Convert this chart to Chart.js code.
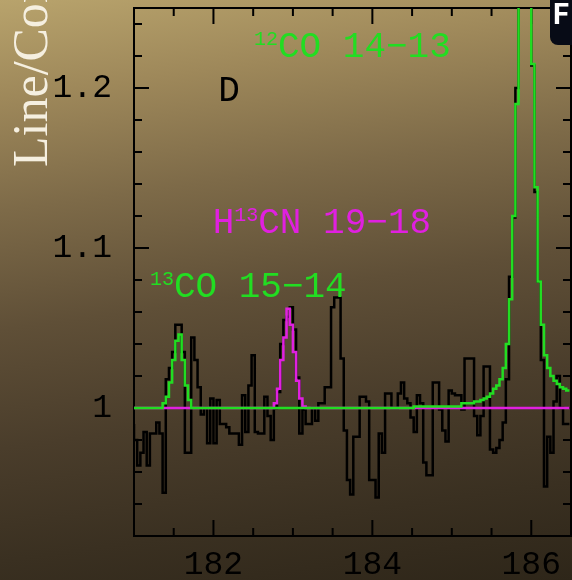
<!DOCTYPE html>
<html>
<head>
<meta charset="utf-8">
<script src="https://cdn.jsdelivr.net/npm/chart.js@4.4.1/dist/chart.umd.min.js"></script>
<style>
  html, body { margin: 0; padding: 0; }
  body {
    width: 572px; height: 580px; overflow: hidden; position: relative;
    background: linear-gradient(172deg, #b8a36c 0%, #9e885a 15%, #7d6a48 32%, #5f4f37 50%, #4a3d2b 68%, #3a3021 85%, #2e2619 100%);
  }
  #ytitle {
    position: absolute; left: 0; top: 0; white-space: nowrap;
    transform-origin: left top; transform: translate(5px, 167px) rotate(-90deg);
    font-family: "Liberation Serif", serif; font-size: 50px; line-height: 50px; color: #f5efe0;
  }
  #fbox {
    position: absolute; left: 550px; top: 0; width: 30px; height: 45px;
    background: #070b16; border-bottom-left-radius: 8px;
    color: #fff; font: bold 29px/28px Roboto, sans-serif; padding-left: 3px; box-sizing: border-box;
  }
  canvas { position: absolute; left: 0; top: 0; }
</style>
</head>
<body>
<div id="ytitle">Line/Continuum</div>
<canvas id="c" width="572" height="580"></canvas>
<div id="fbox">F</div>
<script>
// channel grid (GHz)
var chanStart = 181.0;
var chanWidth = 0.04;

// observed spectrum, line/continuum
var spectrum = [
  0.99, 0.98, 0.964, 0.972, 0.985, 0.964, 0.984, 0.984, 0.991, 0.984,
  0.947, 1.018, 1.025, 1.035, 1.052, 1.052, 1.035, 0.972, 0.972, 1.044,
  1.03, 1.013, 0.996, 1.0, 0.978, 1.006, 0.978, 1.005, 0.99, 0.99,
  0.988, 0.984, 0.984, 0.984, 0.977, 1.008, 0.985, 1.014, 1.033, 0.985,
  0.984, 0.984, 1.007, 0.995, 0.98, 1.0, 1.01, 1.04, 1.055, 1.057,
  1.063, 1.049, 1.019, 0.984, 0.999, 0.99, 0.99, 1.0, 0.992, 1.003,
  1.003, 1.013, 1.013, 1.063, 1.069, 1.069, 1.031, 0.986, 0.955, 0.946,
  0.982, 0.982, 1.007, 1.007, 1.004, 0.955, 0.955, 0.944, 0.984, 0.972,
  1.009, 1.009, 1.0, 1.0, 1.009, 1.016, 1.006, 1.003, 0.994, 0.985,
  1.008, 1.003, 0.966, 0.958, 0.958, 1.016, 1.016, 0.999, 0.986, 0.979,
  1.011, 1.009, 1.008, 1.008, 0.999, 1.031, 1.031, 1.031, 0.995, 0.983,
  0.995, 1.026, 1.026, 0.974, 0.972, 0.975, 0.98, 0.991, 1.018, 1.082,
  1.119, 1.2, 1.35, 1.5, 1.5, 1.35, 1.214, 1.135, 1.079, 1.03,
  0.951, 0.982, 0.972, 1.004, 1.02, 1.0, 0.99, 0.99
];

// CO fits (13CO 15-14 and 12CO 14-13)
var coModel = [
  1, 1, 1, 1, 1, 1, 1, 1, 1, 1,
  1.003, 1.007, 1.016, 1.03, 1.042, 1.046, 1.03, 1.014, 1.005, 1,
  1, 1, 1, 1, 1, 1, 1, 1, 1, 1,
  1, 1, 1, 1, 1, 1, 1, 1, 1, 1,
  1, 1, 1, 1, 1, 1, 1, 1, 1, 1,
  1, 1, 1, 1, 1, 1, 1, 1, 1, 1,
  1, 1, 1, 1, 1, 1, 1, 1, 1, 1,
  1, 1, 1, 1, 1, 1, 1, 1, 1, 1,
  1, 1, 1, 1, 1, 1, 1, 1, 1, 1.001,
  1.001, 1.001, 1.001, 1.001, 1.001, 1.001, 1.001, 1.001, 1.001, 1.001,
  1.001, 1.001, 1.001, 1.001, 1.003, 1.003, 1.003, 1.003, 1.004, 1.004,
  1.005, 1.006, 1.007, 1.009, 1.012, 1.014, 1.018, 1.025, 1.04, 1.068,
  1.12, 1.19, 1.4, 1.7, 1.7, 1.4, 1.215, 1.138, 1.079, 1.052,
  1.033, 1.025, 1.02, 1.017, 1.015, 1.013, 1.012, 1.011
];

// H13CN 19-18 fit
var hcnModel = [
  1, 1, 1, 1, 1, 1, 1, 1, 1, 1,
  1, 1, 1, 1, 1, 1, 1, 1, 1, 1,
  1, 1, 1, 1, 1, 1, 1, 1, 1, 1,
  1, 1, 1, 1, 1, 1, 1, 1, 1, 1,
  1, 1, 1, 1, 1, 1.003, 1.012, 1.03, 1.044, 1.062,
  1.052, 1.035, 1.017, 1.006, 1.001, 1, 1, 1, 1, 1,
  1, 1, 1, 1, 1, 1, 1, 1, 1, 1,
  1, 1, 1, 1, 1, 1, 1, 1, 1, 1,
  1, 1, 1, 1, 1, 1, 1, 1, 1, 1,
  1, 1, 1, 1, 1, 1, 1, 1, 1, 1,
  1, 1, 1, 1, 1, 1, 1, 1, 1, 1,
  1, 1, 1, 1, 1, 1, 1, 1, 1, 1,
  1, 1, 1, 1, 1, 1, 1, 1, 1, 1,
  1, 1, 1, 1, 1, 1, 1, 1
];

// axis ticks
var xLabelTicks = [182, 184, 186];
var xAllTicks = [181.5, 182, 182.5, 183, 183.5, 184, 184.5, 185, 185.5, 186, 186.5];
var yLabelTicks = [1, 1.1, 1.2];
var yAllTicks = [0.94, 0.96, 0.98, 1, 1.02, 1.04, 1.06, 1.08, 1.1, 1.12, 1.14, 1.16, 1.18, 1.2, 1.22, 1.24];

// line labels: anchor (GHz, line/continuum) at left end of baseline
var notes = [
  { x: 182.06, y: 1.1919, color: '#000', parts: [{ t: 'D' }] },
  { x: 182.51, y: 1.2194, color: '#22dd22', parts: [{ t: '12', sup: true }, { t: 'CO 14\u221213' }] },
  { x: 181.99, y: 1.1094, color: '#e020e0', parts: [{ t: 'H' }, { t: '13', sup: true }, { t: 'CN 19\u221218' }] },
  { x: 181.2, y: 1.0694, color: '#22dd22', parts: [{ t: '13', sup: true }, { t: 'CO 15\u221214' }] }
];

function toPoints(vals) {
  var pts = [];
  for (var i = 0; i < vals.length; i++) {
    pts.push({ x: chanStart + i * chanWidth, y: vals[i] });
  }
  return pts;
}

var tickFont = { family: '"Liberation Mono", monospace', size: 33 };

var frameTicks = {
  id: 'frameTicks',
  beforeDatasetsDraw: function (chart) {
    var ctx = chart.ctx, a = chart.chartArea, xs = chart.scales.x, ys = chart.scales.y;
    ctx.save();
    ctx.strokeStyle = '#000';
    ctx.lineWidth = 2;
    ctx.strokeRect(a.left, a.top, a.right - a.left, a.bottom - a.top);
    ctx.beginPath();
    xAllTicks.forEach(function (v) {
      var p = xs.getPixelForValue(v);
      var len = xLabelTicks.indexOf(v) >= 0 ? 16 : 8;
      ctx.moveTo(p, a.bottom); ctx.lineTo(p, a.bottom - len);
      ctx.moveTo(p, a.top); ctx.lineTo(p, a.top + len);
    });
    yAllTicks.forEach(function (v) {
      var p = ys.getPixelForValue(v);
      var len = yLabelTicks.indexOf(v) >= 0 ? 15 : 8;
      ctx.moveTo(a.left, p); ctx.lineTo(a.left + len, p);
      ctx.moveTo(a.right, p); ctx.lineTo(a.right - len, p);
    });
    ctx.stroke();
    ctx.restore();
  },
  afterDraw: function (chart) {
    var ctx = chart.ctx, xs = chart.scales.x, ys = chart.scales.y;
    ctx.save();
    ctx.textBaseline = 'alphabetic';
    notes.forEach(function (n) {
      var px = xs.getPixelForValue(n.x);
      var py = ys.getPixelForValue(n.y);
      ctx.fillStyle = n.color;
      n.parts.forEach(function (p) {
        ctx.font = (p.sup ? '20px' : '36px') + ' "Liberation Mono", monospace';
        ctx.fillText(p.t, px, p.sup ? py - 12 : py);
        px += ctx.measureText(p.t).width;
      });
    });
    ctx.restore();
  }
};

new Chart(document.getElementById('c'), {
  type: 'line',
  data: {
    datasets: [
      { label: 'CO fit', data: toPoints(coModel), borderColor: '#22dd22', borderWidth: 2.5, stepped: 'after', order: 0 },
      { label: 'H13CN fit', data: toPoints(hcnModel), borderColor: '#e020e0', borderWidth: 2.5, stepped: 'after', order: 1 },
      { label: 'spectrum', data: toPoints(spectrum), borderColor: '#000', borderWidth: 2.5, stepped: 'after', order: 2 }
    ]
  },
  options: {
    responsive: false,
    animation: false,
    layout: { padding: { left: 0, top: 8, right: 1, bottom: 0 } },
    plugins: { legend: { display: false }, tooltip: { enabled: false } },
    elements: { point: { radius: 0 } },
    scales: {
      x: {
        type: 'linear', min: 181, max: 186.5,
        grid: { display: false, drawTicks: false },
        border: { display: false },
        afterBuildTicks: function (s) { s.ticks = xLabelTicks.map(function (v) { return { value: v }; }); },
        afterFit: function (s) { s.height = 44; s.paddingLeft = 0; s.paddingRight = 0; },
        ticks: { font: tickFont, color: '#000', padding: 9, maxRotation: 0, autoSkip: false,
                 callback: function (v) { return String(v); } }
      },
      y: {
        type: 'linear', min: 0.92, max: 1.25,
        grid: { display: false, drawTicks: false },
        border: { display: false },
        afterBuildTicks: function (s) { s.ticks = yLabelTicks.map(function (v) { return { value: v }; }); },
        afterFit: function (s) { s.width = 134; s.paddingTop = 0; s.paddingBottom = 0; },
        ticks: { font: tickFont, color: '#000', padding: 22, autoSkip: false,
                 callback: function (v) { return String(v); } }
      }
    }
  },
  plugins: [frameTicks]
});
</script>
</body>
</html>
